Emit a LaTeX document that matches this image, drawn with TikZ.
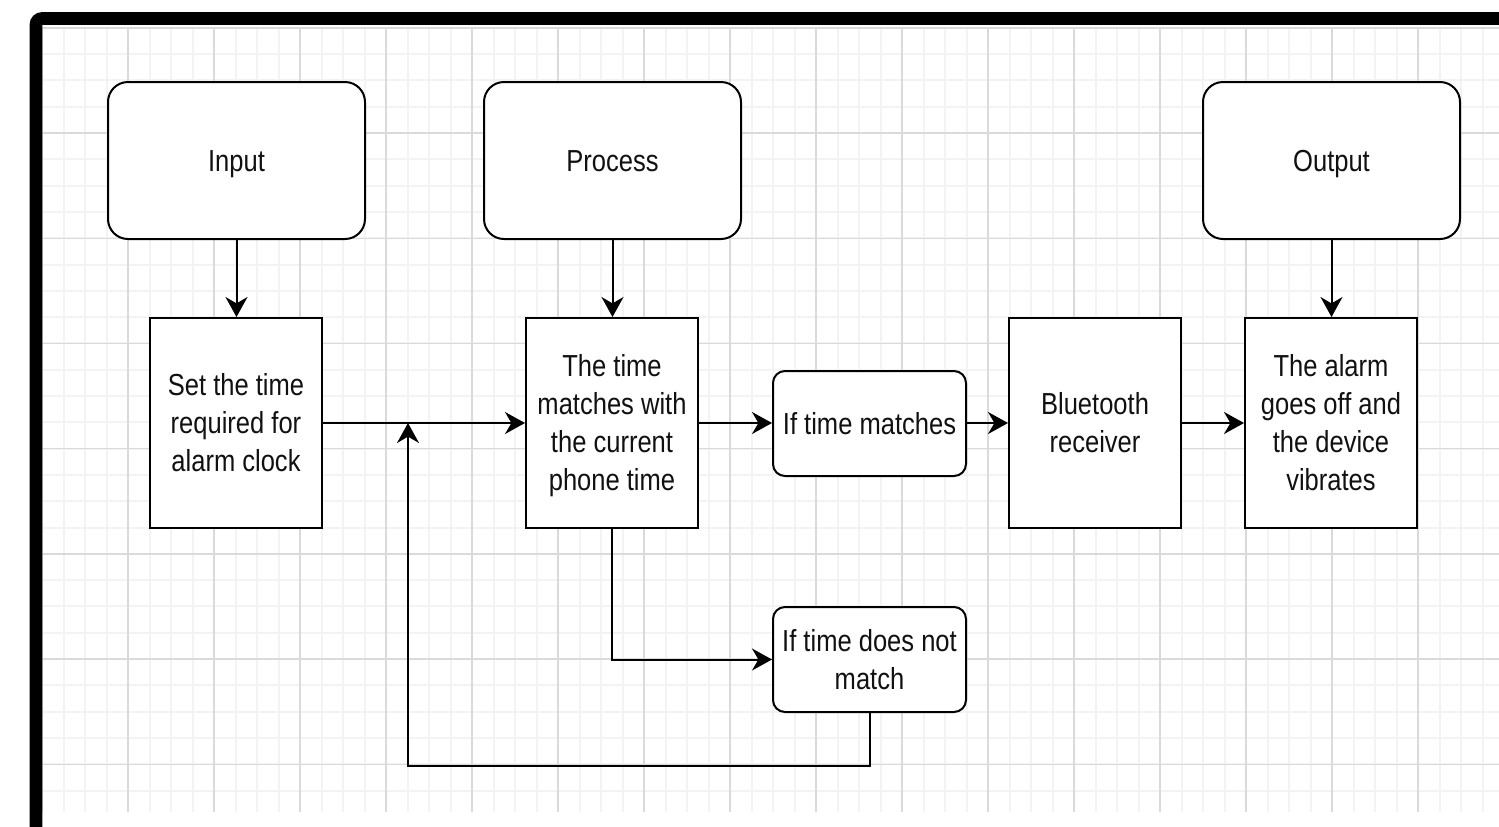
\documentclass[tikz,border=0pt]{standalone}
\usepackage{fontspec}
\setmainfont{Liberation Sans}[FakeStretch=0.84]
\usetikzlibrary{arrows.meta}
\definecolor{minorgrid}{HTML}{F3F3F3}
\definecolor{majorgrid}{HTML}{DADADA}
\definecolor{txt}{HTML}{111111}
\newcommand{\boxtext}[1]{\raisebox{-1.65pt}[\height][\depth]{\begin{tabular}{@{}c@{}}#1\end{tabular}}}
\tikzset{
  base/.style={draw=black, line width=1pt, fill=white, inner sep=0pt, align=center,
    text=txt, font=\fontsize{15.2pt}{19pt}\selectfont},
  bigbox/.style={base, rounded corners=10pt, minimum width=128.5pt, minimum height=78.5pt},
  stepbox/.style={base, minimum width=86pt, minimum height=105pt},
  decbox/.style={base, rounded corners=6pt, minimum width=96.5pt, minimum height=52.5pt},
  arr/.style={draw=black, line width=1pt, -{Stealth[length=10pt, width=11pt, inset=3.2pt]}},
  minorline/.style={draw=minorgrid, line width=1pt},
  majorline/.style={draw=majorgrid, line width=0.7pt},
}
\begin{document}
\begin{tikzpicture}[x=0.5pt, y=-0.5pt]
\useasboundingbox (0,0) rectangle (1499,826);
\fill[white] (0,0) rectangle (1499,826);
% grid
\begin{scope}
\clip (42,27.8) rectangle (1499,812);
\foreach \i in {0,...,67} {\draw[minorline] ({42+21.5*\i},27.8) -- ({42+21.5*\i},812);}
\foreach \j in {0,...,29} {\draw[minorline] (42,{27.8+26.3*\j}) -- (1499,{27.8+26.3*\j});}
\foreach \i in {0,...,16} {\draw[majorline] ({42+86*\i},27.8) -- ({42+86*\i},812);}
\foreach \j in {0,...,7} {\draw[majorline] (42,{27.8+105.2*\j}) -- (1499,{27.8+105.2*\j});}
\end{scope}
% frame
\draw[line width=6.3pt, rounded corners=3pt] (36,840) -- (36,18.5) -- (1520,18.5);

% nodes
\node[bigbox] (input) at (236.5,160.5) {\boxtext{Input}};
\node[bigbox] (process) at (612.5,160.5) {\boxtext{Process}};
\node[bigbox] (output) at (1331.5,160.5) {\boxtext{Output}};
\node[stepbox] (set) at (236,423) {\boxtext{Set the time\\required for\\alarm clock}};
\node[stepbox] (tm) at (612,423) {\boxtext{The time\\matches with\\the current\\phone time}};
\node[decbox] (match) at (869.5,423.5) {\boxtext{If time matches}};
\node[stepbox] (bt) at (1095,423) {\boxtext{Bluetooth\\receiver}};
\node[stepbox] (alarm) at (1331,423) {\boxtext{The alarm\\goes off and\\the device\\vibrates}};
\node[decbox] (nomatch) at (869.5,659.5) {\boxtext{If time does not\\match}};
\coordinate (join) at (408,423);

% connectors
\draw[arr] (input.south) -- (input.south |- set.north);
\draw[arr] (process.south) -- (process.south |- tm.north);
\draw[arr] (output.south) -- (output.south |- alarm.north);
\draw[arr] (set.east |- join) -- (tm.west |- join);
\draw[arr] (tm.east |- join) -- (match.west |- join);
\draw[arr] (match.east |- join) -- (bt.west |- join);
\draw[arr] (bt.east |- join) -- (alarm.west |- join);
\draw[arr] (tm.south) |- (nomatch.west);
\draw[arr] (nomatch.south) -- ++(0,52.5) -| (join);
\end{tikzpicture}
\end{document}
